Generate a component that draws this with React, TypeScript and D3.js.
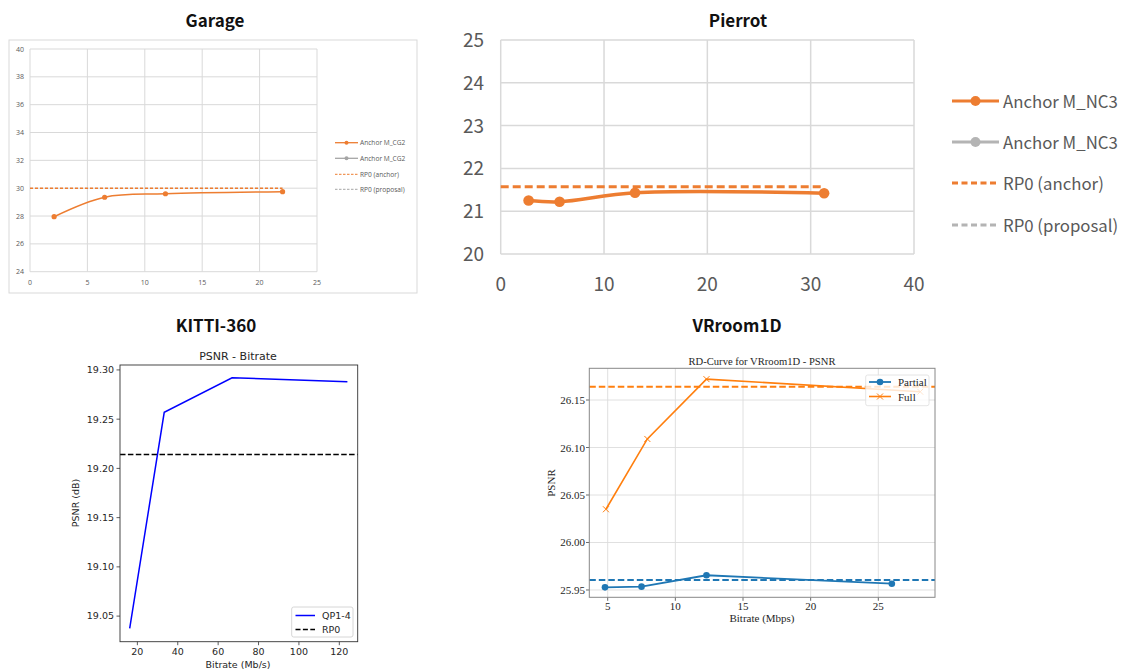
import React from "react";
import * as d3 from "d3";

// ---- data ----
const garageRate = [2.1, 6.5, 11.8, 22];
const garagePsnr = [27.95, 29.35, 29.6, 29.75];
const garageRp0 = 30;
const garageLegend = ["Anchor M_CG2", "Anchor M_CG2", "RP0 (anchor)", "RP0 (proposal)"];

const pierrotRate = [2.7, 5.7, 13, 31.3];
const pierrotPsnr = [21.25, 21.22, 21.43, 21.42];
const pierrotRp0 = 21.57;
const pierrotLegend = ["Anchor M_NC3", "Anchor M_NC3", "RP0 (anchor)", "RP0 (proposal)"];

const kittiRate = [16.2, 33.3, 66.9, 124];
const kittiPsnr = [19.0375, 19.257, 19.292, 19.288];
const kittiRp0 = 19.214;
const kittiTicksY = [19.05, 19.1, 19.15, 19.2, 19.25, 19.3];
const kittiTicksX = [20, 40, 60, 80, 100, 120];

const vrPartialRate = [4.8, 7.5, 12.3, 26];
const vrPartialPsnr = [25.9528, 25.9535, 25.9655, 25.9566];
const vrFullRate = [4.87, 7.93, 12.3, 28.1];
const vrFullPsnr = [26.035, 26.109, 26.172, 26.1587];
const vrRp0Partial = 25.9605;
const vrRp0Full = 26.164;
const vrTicksY = [25.95, 26.0, 26.05, 26.1, 26.15];
const vrTicksX = [5, 10, 15, 20, 25];

const ORANGE = "#ED7D31";
const GRAY = "#A5A5A5";
const GRID = "#D9D9D9";
const TXT = "#595959";
const TITLE_FONT = "'Noto Sans CJK KR', 'Noto Sans', sans-serif";

const pts = (xs: number[], ys: number[]) => xs.map((x, i) => [x, ys[i]] as [number, number]);

function Garage() {
  const x = d3.scaleLinear().domain([0, 25]).range([30, 317]);
  const y = d3.scaleLinear().domain([24, 40]).range([271.7, 49]);
  const line = d3.line().x(d => x(d[0])).y(d => y(d[1])).curve(d3.curveCatmullRom.alpha(0.5));
  const data = pts(garageRate, garagePsnr);
  return (
    <g>
      <rect x={9} y={40} width={408} height={253} fill="#fff" stroke={GRID} />
      {d3.range(24, 41, 2).map(t => (
        <g key={"gy" + t}>
          <line x1={x(0)} x2={x(25)} y1={y(t)} y2={y(t)} stroke={GRID} />
          <text x={24} y={y(t) + 2.5} textAnchor="end" fontSize={7} fill={TXT} fontFamily="'Open Sans', sans-serif">{t}</text>
        </g>
      ))}
      {d3.range(0, 26, 5).map(t => (
        <g key={"gx" + t}>
          <line x1={x(t)} x2={x(t)} y1={y(24)} y2={y(40)} stroke={GRID} />
          <text x={x(t)} y={284.5} textAnchor="middle" fontSize={7} fill={TXT} fontFamily="'Open Sans', sans-serif">{t}</text>
        </g>
      ))}
      <line x1={x(0)} x2={x(garageRate[3])} y1={y(garageRp0)} y2={y(garageRp0)} stroke={ORANGE} strokeWidth={1.5} strokeDasharray="3,2" />
      <path d={line(data) || ""} fill="none" stroke={ORANGE} strokeWidth={1.5} />
      {data.map((d, i) => <circle key={i} cx={x(d[0])} cy={y(d[1])} r={2.6} fill={ORANGE} />)}
      {garageLegend.map((s, i) => {
        const ly = [142.7, 158.3, 174.3, 189.3][i];
        const c = i % 2 === 0 ? ORANGE : GRAY;
        return (
          <g key={"gl" + i}>
            <line x1={335} x2={358} y1={ly} y2={ly} stroke={c} strokeWidth={i < 2 ? 1.3 : 1} strokeDasharray={i < 2 ? undefined : "2.5,1.5"} />
            {i < 2 && <circle cx={346.5} cy={ly} r={2} fill={c} />}
            <text x={360} y={ly + 2.4} fontSize={6.6} fill={TXT} fontFamily="'Open Sans', sans-serif">{s}</text>
          </g>
        );
      })}
    </g>
  );
}

function Pierrot() {
  const x = d3.scaleLinear().domain([0, 40]).range([500.7, 914]);
  const y = d3.scaleLinear().domain([20, 25]).range([254, 40]);
  const line = d3.line().x(d => x(d[0])).y(d => y(d[1])).curve(d3.curveCatmullRom.alpha(0.5));
  const data = pts(pierrotRate, pierrotPsnr);
  const font = "'Noto Sans CJK KR', 'Noto Sans', sans-serif";
  return (
    <g>
      {d3.range(20, 26).map(t => (
        <g key={"py" + t}>
          <line x1={x(0)} x2={x(40)} y1={y(t)} y2={y(t)} stroke={GRID} strokeWidth={1.5} />
          <text x={484} y={y(t) + 7} textAnchor="end" fontSize={19} fill={TXT} fontFamily={font}>{t}</text>
        </g>
      ))}
      {d3.range(0, 41, 10).map(t => (
        <g key={"px" + t}>
          <line x1={x(t)} x2={x(t)} y1={y(20)} y2={y(25)} stroke={GRID} strokeWidth={1.5} />
          <text x={x(t)} y={291} textAnchor="middle" fontSize={19} fill={TXT} fontFamily={font}>{t}</text>
        </g>
      ))}
      <line x1={x(0)} x2={x(pierrotRate[3])} y1={y(pierrotRp0)} y2={y(pierrotRp0)} stroke={ORANGE} strokeWidth={3} strokeDasharray="8,4" />
      <path d={line(data) || ""} fill="none" stroke={ORANGE} strokeWidth={3.5} />
      {data.map((d, i) => <circle key={i} cx={x(d[0])} cy={y(d[1])} r={5.3} fill={ORANGE} />)}
      {pierrotLegend.map((s, i) => {
        const ly = [101, 142, 183, 225][i];
        const c = i % 2 === 0 ? ORANGE : "#B4B4B4";
        return (
          <g key={"pl" + i}>
            <line x1={952} x2={999} y1={ly} y2={ly} stroke={c} strokeWidth={3} strokeDasharray={i < 2 ? undefined : "6,3.5"} />
            {i < 2 && <circle cx={975.5} cy={ly} r={5} fill={c} />}
            <text x={1003} y={ly + 6.5} fontSize={16.8} fill={TXT} fontFamily={font}>{s}</text>
          </g>
        );
      })}
    </g>
  );
}

function Kitti() {
  const x = d3.scaleLinear().domain([11.4, 129.1]).range([120, 357.7]);
  const y = d3.scaleLinear().domain([19.024, 19.305]).range([641.7, 365]);
  const line = d3.line().x(d => x(d[0])).y(d => y(d[1]));
  const data = pts(kittiRate, kittiPsnr);
  const font = "'DejaVu Sans', sans-serif";
  return (
    <g fontFamily={font} fill="#262626">
      <text x={238} y={360} textAnchor="middle" fontSize={11}>PSNR - Bitrate</text>
      <line x1={120} x2={357.7} y1={y(kittiRp0)} y2={y(kittiRp0)} stroke="#000" strokeWidth={1.5} strokeDasharray="5.5,2.4" />
      <path d={line(data) || ""} fill="none" stroke="#0000ff" strokeWidth={1.5} />
      <rect x={120} y={365} width={237.7} height={276.7} fill="none" stroke="#333" strokeWidth={0.9} />
      {kittiTicksY.map(t => (
        <g key={"ky" + t}>
          <line x1={116.5} x2={120} y1={y(t)} y2={y(t)} stroke="#333" strokeWidth={0.8} />
          <text x={114} y={y(t) + 3.4} textAnchor="end" fontSize={9.5}>{t.toFixed(2)}</text>
        </g>
      ))}
      {kittiTicksX.map(t => (
        <g key={"kx" + t}>
          <line x1={x(t)} x2={x(t)} y1={641.7} y2={645.2} stroke="#333" strokeWidth={0.8} />
          <text x={x(t)} y={655} textAnchor="middle" fontSize={9.5}>{t}</text>
        </g>
      ))}
      <text x={238} y={668} textAnchor="middle" fontSize={9.5}>Bitrate (Mb/s)</text>
      <text transform="translate(79,503) rotate(-90)" textAnchor="middle" fontSize={9.5}>PSNR (dB)</text>
      <rect x={291.7} y={607} width={61.3} height={30} rx={2} fill="#fff" fillOpacity={0.8} stroke="#ccc" strokeWidth={0.8} />
      <line x1={295.5} x2={315} y1={615.5} y2={615.5} stroke="#0000ff" strokeWidth={1.5} />
      <text x={322} y={619} fontSize={9.5}>QP1-4</text>
      <line x1={295.5} x2={315} y1={629.5} y2={629.5} stroke="#000" strokeWidth={1.5} strokeDasharray="5,2.4" />
      <text x={322} y={633} fontSize={9.5}>RP0</text>
    </g>
  );
}

function VRroom() {
  const x = d3.scaleLinear().domain([3.64, 29.19]).range([589.3, 935]);
  const y = d3.scaleLinear().domain([25.9423, 26.1834]).range([597.3, 368.3]);
  const line = d3.line().x(d => x(d[0])).y(d => y(d[1]));
  const partial = pts(vrPartialRate, vrPartialPsnr);
  const full = pts(vrFullRate, vrFullPsnr);
  const font = "'Liberation Serif', 'DejaVu Serif', serif";
  const BLUE = "#1f77b4";
  const OR = "#ff7f0e";
  const fs = 11;
  return (
    <g fontFamily={font} fill="#262626">
      <text x={762} y={365} textAnchor="middle" fontSize={10.6}>RD-Curve for VRroom1D - PSNR</text>
      {vrTicksY.map(t => (
        <g key={"vy" + t}>
          <line x1={589.3} x2={935} y1={y(t)} y2={y(t)} stroke="#dcdcdc" strokeWidth={0.9} />
          <line x1={586} x2={589.3} y1={y(t)} y2={y(t)} stroke="#444" strokeWidth={0.8} />
          <text x={585} y={y(t) + 4} textAnchor="end" fontSize={fs}>{t.toFixed(2)}</text>
        </g>
      ))}
      {vrTicksX.map(t => (
        <g key={"vx" + t}>
          <line x1={x(t)} x2={x(t)} y1={368.3} y2={597.3} stroke="#dcdcdc" strokeWidth={0.9} />
          <line x1={x(t)} x2={x(t)} y1={597.3} y2={600.8} stroke="#444" strokeWidth={0.8} />
          <text x={x(t)} y={609.5} textAnchor="middle" fontSize={fs}>{t}</text>
        </g>
      ))}
      <line x1={589.3} x2={935} y1={y(vrRp0Full)} y2={y(vrRp0Full)} stroke={OR} strokeWidth={1.8} strokeDasharray="6.5,3" />
      <line x1={589.3} x2={935} y1={y(vrRp0Partial)} y2={y(vrRp0Partial)} stroke={BLUE} strokeWidth={1.8} strokeDasharray="6.5,3" />
      <path d={line(partial) || ""} fill="none" stroke={BLUE} strokeWidth={1.8} />
      {partial.map((d, i) => <circle key={"pp" + i} cx={x(d[0])} cy={y(d[1])} r={3.3} fill={BLUE} />)}
      <path d={line(full) || ""} fill="none" stroke={OR} strokeWidth={1.6} />
      {full.map((d, i) => (
        <path key={"fp" + i} d={`M${x(d[0]) - 3},${y(d[1]) - 3}L${x(d[0]) + 3},${y(d[1]) + 3}M${x(d[0]) - 3},${y(d[1]) + 3}L${x(d[0]) + 3},${y(d[1]) - 3}`} stroke={OR} strokeWidth={1} />
      ))}
      <rect x={589.3} y={368.3} width={345.7} height={229} fill="none" stroke="#888" strokeWidth={1} />
      <text x={762} y={622} textAnchor="middle" fontSize={fs}>Bitrate (Mbps)</text>
      <text transform="translate(555,483) rotate(-90)" textAnchor="middle" fontSize={fs}>PSNR</text>
      <rect x={865.7} y={375} width={63.3} height={30.7} rx={2} fill="#fff" fillOpacity={0.8} stroke="#ddd" strokeWidth={0.8} />
      <line x1={869} x2={891} y1={382} y2={382} stroke={BLUE} strokeWidth={1.8} />
      <circle cx={880} cy={382} r={3.3} fill={BLUE} />
      <text x={898} y={386} fontSize={fs}>Partial</text>
      <line x1={869} x2={891} y1={396.5} y2={396.5} stroke={OR} strokeWidth={1.6} />
      <path d="M877,393.5L883,399.5M877,399.5L883,393.5" stroke={OR} strokeWidth={1} />
      <text x={898} y={400.5} fontSize={fs}>Full</text>
    </g>
  );
}

export default function App() {
  const titles = [
    { t: "Garage", x: 215, y: 27 },
    { t: "Pierrot", x: 738, y: 27 },
    { t: "KITTI-360", x: 216, y: 332 },
    { t: "VRroom1D", x: 737, y: 332 },
  ];
  return (
    <svg width={1122} height={670} style={{ position: "absolute", left: 0, top: 0, background: "#fff" }}>
      <rect width={1122} height={670} fill="#fff" />
      {titles.map(d => (
        <text key={d.t} x={d.x} y={d.y} textAnchor="middle" fontSize={17} fontWeight="bold" fill="#111" fontFamily={TITLE_FONT}>{d.t}</text>
      ))}
      <Garage />
      <Pierrot />
      <Kitti />
      <VRroom />
    </svg>
  );
}
